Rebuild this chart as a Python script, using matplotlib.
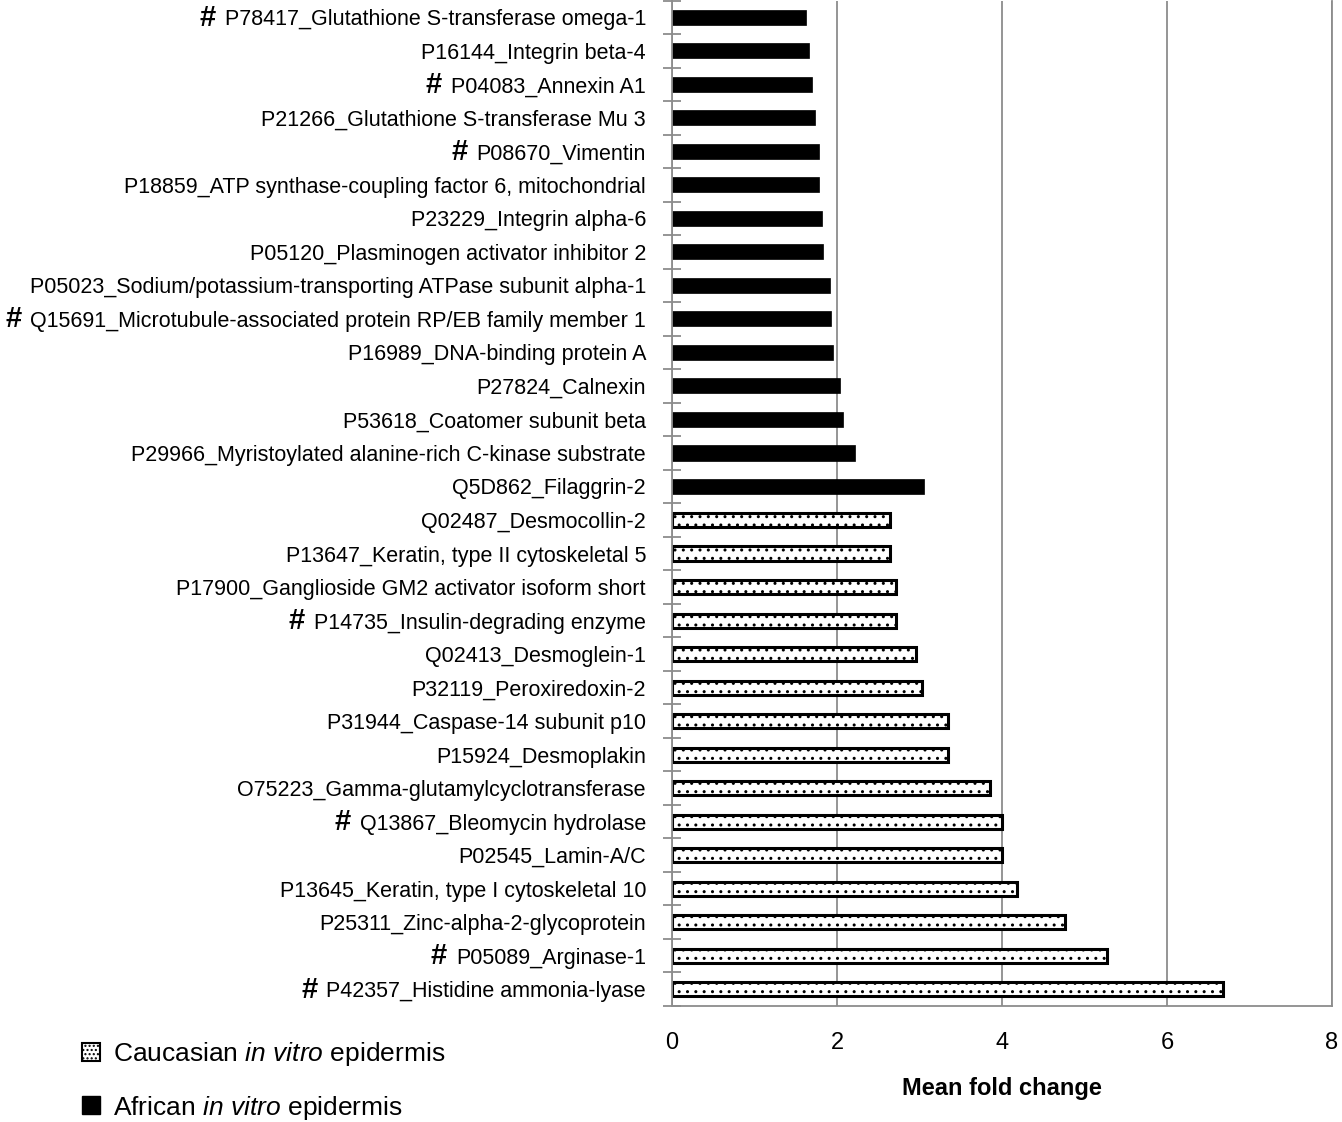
import matplotlib
matplotlib.use('Agg')
import matplotlib.pyplot as plt
from matplotlib.patches import Patch
from matplotlib.transforms import offset_copy
import numpy as np

FONT = ['Liberation Sans Narrow', 'Liberation Sans', 'DejaVu Sans']
plt.rcParams['font.family'] = FONT
plt.rcParams['mathtext.fontset'] = 'custom'
plt.rcParams['mathtext.rm'] = 'Liberation Sans'
plt.rcParams['mathtext.it'] = 'Liberation Sans:italic'
plt.rcParams['hatch.linewidth'] = 1.0

# ---- data (top to bottom as in the chart) ----
proteins = [
    "P78417_Glutathione S-transferase omega-1",
    "P16144_Integrin beta-4",
    "P04083_Annexin A1",
    "P21266_Glutathione S-transferase Mu 3",
    "P08670_Vimentin",
    "P18859_ATP synthase-coupling factor 6, mitochondrial",
    "P23229_Integrin alpha-6",
    "P05120_Plasminogen activator inhibitor 2",
    "P05023_Sodium/potassium-transporting ATPase subunit alpha-1",
    "Q15691_Microtubule-associated protein RP/EB family member 1",
    "P16989_DNA-binding protein A",
    "P27824_Calnexin",
    "P53618_Coatomer subunit beta",
    "P29966_Myristoylated alanine-rich C-kinase substrate",
    "Q5D862_Filaggrin-2",
    "Q02487_Desmocollin-2",
    "P13647_Keratin, type II cytoskeletal 5",
    "P17900_Ganglioside GM2 activator isoform short",
    "P14735_Insulin-degrading enzyme",
    "Q02413_Desmoglein-1",
    "P32119_Peroxiredoxin-2",
    "P31944_Caspase-14 subunit p10",
    "P15924_Desmoplakin",
    "O75223_Gamma-glutamylcyclotransferase",
    "Q13867_Bleomycin hydrolase",
    "P02545_Lamin-A/C",
    "P13645_Keratin, type I cytoskeletal 10",
    "P25311_Zinc-alpha-2-glycoprotein",
    "P05089_Arginase-1",
    "P42357_Histidine ammonia-lyase",
]
fold_change = [
    1.62, 1.66, 1.70, 1.73, 1.78, 1.78, 1.82, 1.83, 1.92, 1.93,
    1.95, 2.04, 2.07, 2.22, 3.05,
    2.64, 2.64, 2.72, 2.72, 2.96, 3.03, 3.35, 3.35, 3.85, 4.00,
    4.00, 4.18, 4.76, 5.27, 6.68,
]
group = ["African"] * 15 + ["Caucasian"] * 15
hash_marked = ["P78417", "P04083", "P08670", "Q15691", "P14735",
               "Q13867", "P05089", "P42357"]
x_ticks = [0, 2, 4, 6, 8]
legend_labels = [r"Caucasian $\mathit{in\ vitro}$ epidermis",
                 r"African $\mathit{in\ vitro}$ epidermis"]

W, H = 1342, 1122
fig = plt.figure(figsize=(W / 100, H / 100), dpi=100)
ax = fig.add_axes([672 / W, 1 - 1006 / H, 660 / W, 1005.5 / H])

GRAY = '#8c8c8c'
y = np.arange(len(proteins))
for yi, v, g in zip(y, fold_change, group):
    if g == "African":
        ax.barh(yi, v, height=0.45, color='black', edgecolor='black', linewidth=0.5)
    else:
        ax.barh(yi, v, height=0.42, facecolor='white', edgecolor='black',
                linewidth=2.2, hatch='..')

ax.set_xlim(0, 8)
ax.set_ylim(len(proteins) - 0.5, -0.5)
ax.set_xticks(x_ticks)
ax.set_xticklabels([str(t) for t in x_ticks], fontsize=17)
ax.tick_params(axis='x', length=0, pad=19)
ax.set_yticks([])
ax.set_yticks(np.arange(-0.5, len(proteins)), minor=True)
ax.tick_params(axis='y', which='minor', direction='inout', length=12.5,
               width=1.3, color=GRAY, labelleft=False)
ax.grid(axis='x', color=GRAY, linewidth=1.3)
ax.set_axisbelow(True)
for s in ['left', 'bottom', 'right']:
    ax.spines[s].set_color(GRAY)
    ax.spines[s].set_linewidth(1.3)
ax.spines['top'].set_visible(False)
ax.set_xlabel("Mean fold change", fontsize=17, fontweight='bold', labelpad=16)

trans = offset_copy(ax.get_yaxis_transform(), fig=fig, x=-26, y=-2.5, units='dots')
texts = []
for yi, p in zip(y, proteins):
    t = ax.text(0, yi, p, transform=trans, ha='right', va='center', fontsize=15.5)
    texts.append((t, p))

fig.canvas.draw()
r = fig.canvas.get_renderer()
for t, p in texts:
    if p.split('_')[0] in hash_marked:
        bb = t.get_window_extent(r)
        fig.text((bb.x0 - 9) / W, (bb.y0 + bb.y1) / 2 / H + 2 / H, '#',
                 ha='right', va='center', fontsize=21, fontweight='bold',
                 family=['Liberation Sans', 'DejaVu Sans'])

handles = [Patch(facecolor='white', edgecolor='black', hatch='....', linewidth=1.5),
           Patch(facecolor='black', edgecolor='black')]
fig.legend(handles, legend_labels, loc='upper left',
           bbox_to_anchor=(64 / W, 1 - 1022 / H), frameon=False, fontsize=19,
           handlelength=0.65, handleheight=0.65, handletextpad=0.5,
           labelspacing=0.95, borderpad=0.2)

fig.savefig('out.png', dpi=100)
